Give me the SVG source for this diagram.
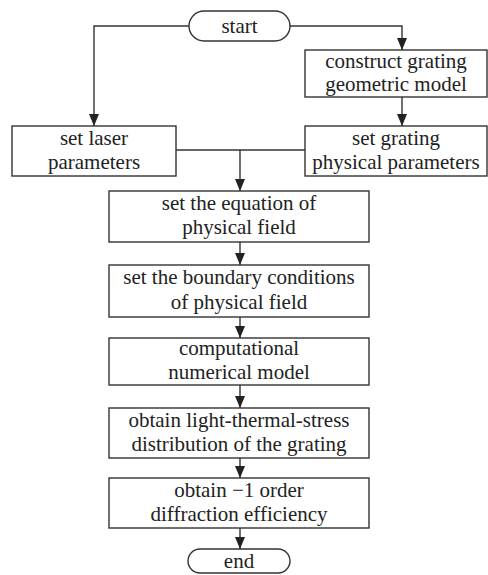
<svg xmlns="http://www.w3.org/2000/svg" width="488" height="575" viewBox="0 0 488 575">
<defs>
<marker id="ah" viewBox="0 0 12 10" refX="12" refY="5" markerWidth="12" markerHeight="10" markerUnits="userSpaceOnUse" orient="auto">
<path d="M0,0 L12,5 L0,10 Z" fill="#222"/>
</marker>
<style>
.b{fill:#fff;stroke:#333;stroke-width:1.4}
.t{font-family:"Liberation Serif","Times New Roman",serif;font-size:21px;fill:#222;text-anchor:middle}
.c{fill:none;stroke:#333;stroke-width:1.4}
</style>
</defs>
<rect width="488" height="575" fill="#fff"/>
<g id="connectors">
<path class="c" d="M189,26 H94 V126" marker-end="url(#ah)"/>
<path class="c" d="M290,26 H402 V50" marker-end="url(#ah)"/>
<path class="c" d="M402,97 V126" marker-end="url(#ah)"/>
<path class="c" d="M176,150 H305"/>
<path class="c" d="M240,150 V191" marker-end="url(#ah)"/>
<path class="c" d="M240,242 V265" marker-end="url(#ah)"/>
<path class="c" d="M240,317 V338" marker-end="url(#ah)"/>
<path class="c" d="M240,385 V408" marker-end="url(#ah)"/>
<path class="c" d="M240,458 V478" marker-end="url(#ah)"/>
<path class="c" d="M240,528 V549" marker-end="url(#ah)"/>
</g>
<g id="start">
<rect class="b" x="189" y="11" width="101" height="30" rx="15"/>
<text class="t" x="239.5" y="33">start</text>
</g>
<g id="construct">
<rect class="b" x="305" y="50" width="182" height="47"/>
<text class="t" x="396" y="68">construct grating</text>
<text class="t" x="396" y="91">geometric model</text>
</g>
<g id="laser">
<rect class="b" x="12" y="126" width="164" height="50"/>
<text class="t" x="94" y="145">set laser</text>
<text class="t" x="94" y="169">parameters</text>
</g>
<g id="grating">
<rect class="b" x="305" y="126" width="182" height="50"/>
<text class="t" x="396" y="145">set grating</text>
<text class="t" x="396" y="169">physical parameters</text>
</g>
<g id="equation">
<rect class="b" x="109" y="191" width="260" height="51"/>
<text class="t" x="239" y="210">set the equation of</text>
<text class="t" x="239" y="234">physical field</text>
</g>
<g id="boundary">
<rect class="b" x="109" y="265" width="260" height="52"/>
<text class="t" x="239" y="284">set the boundary conditions</text>
<text class="t" x="239" y="309">of physical field</text>
</g>
<g id="compute">
<rect class="b" x="109" y="338" width="260" height="47"/>
<text class="t" x="239" y="355">computational</text>
<text class="t" x="239" y="379">numerical model</text>
</g>
<g id="distribution">
<rect class="b" x="109" y="408" width="260" height="50"/>
<text class="t" x="239" y="427">obtain light-thermal-stress</text>
<text class="t" x="239" y="451">distribution of the grating</text>
</g>
<g id="efficiency">
<rect class="b" x="109" y="478" width="260" height="50"/>
<text class="t" x="239" y="497">obtain −1 order</text>
<text class="t" x="239" y="521">diffraction efficiency</text>
</g>
<g id="end">
<rect class="b" x="188" y="549" width="102" height="24" rx="12"/>
<text class="t" x="239" y="568">end</text>
</g>
</svg>
